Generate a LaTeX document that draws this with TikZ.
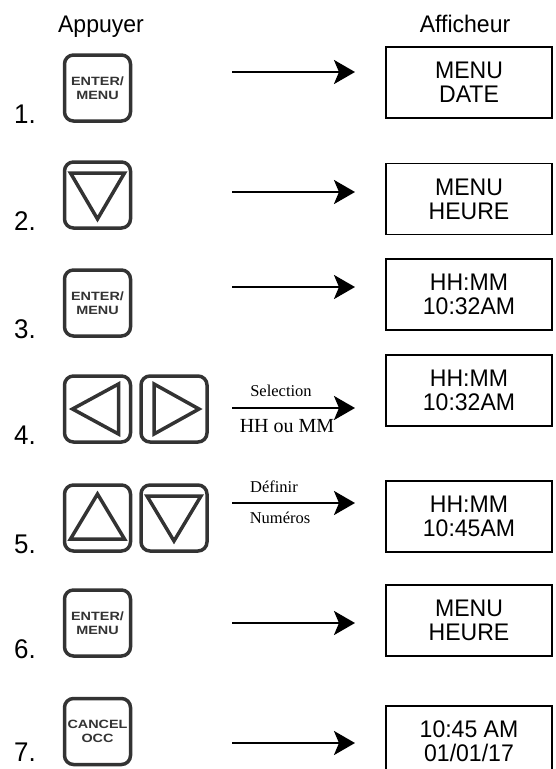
\documentclass[tikz,border=0pt]{standalone}
\usepackage{fontspec}
\setmainfont{Liberation Serif}
\newfontfamily\dispfont[FakeStretch=0.96]{Liberation Sans}
\newfontfamily\keyfont[FakeStretch=1.2]{Liberation Sans}
\usetikzlibrary{arrows.meta}

\tikzset{
  key/.style={draw=black!80, text=black!80, line width=3.5pt, rounded corners=9pt,
    minimum width=66pt, minimum height=66pt, inner sep=0pt, align=center,
    font=\keyfont\bfseries\fontsize{12}{14}\selectfont},
  glyph/.style={draw=black!80, line width=3.5pt},
  screen/.style={draw, line width=1.6pt, minimum width=166pt, minimum height=71pt,
    inner sep=0pt, align=center, font=\dispfont\fontsize{24}{24}\selectfont},
  stepno/.style={anchor=base west, inner sep=0pt, font=\dispfont\fontsize{27}{27}\selectfont},
  title/.style={anchor=base, inner sep=0pt, font=\dispfont\fontsize{24}{24}\selectfont},
  pointer/.style={line width=2.5pt, -{Stealth[length=21pt,width=24pt,inset=5pt]}},
  note/.style={anchor=base, inner sep=0pt, font=\fontsize{16.5}{16.5}\selectfont}
}

\begin{document}
\begin{tikzpicture}[x=1pt,y=-1pt]
\useasboundingbox (0,0) rectangle (555,769);

\draw (101,32)  node (t1) [title] {Appuyer};
\draw (465,32)  node (t2) [title] {Afficheur};

\draw (14,123)    node (n1) [stepno] {1.};
\draw (97.5,88)   node (k1) [key]    {ENTER/\\MENU};
\draw (469,82.5)  node (d1) [screen] {MENU\\DATE};
\coordinate (s1) at (232,72);
\coordinate (e1) at (355,72);
\draw[pointer] (s1) -- (e1);

\draw (14,230)    node (n2) [stepno] {2.};
\draw (97.5,195)  node (k2) [key]    {};
\draw[glyph] (70.5,173) -- (124.5,173) -- (97.5,219) -- cycle;
\draw (469,199)   node (d2) [screen] {MENU\\HEURE};
\coordinate (s2) at (232,192);
\coordinate (e2) at (355,192);
\draw[pointer] (s2) -- (e2);

\draw (14,338)    node (n3) [stepno] {3.};
\draw (97.5,303)  node (k3) [key]    {ENTER/\\MENU};
\draw (469,294.5) node (d3) [screen] {HH:MM\\10:32AM};
\coordinate (s3) at (232,287);
\coordinate (e3) at (355,287);
\draw[pointer] (s3) -- (e3);

\draw (14,444)    node (n4) [stepno] {4.};
\draw (97.5,409)  node (k4) [key]    {};
\draw (174,409)   node (k4b) [key]   {};
\draw[glyph] (72.5,409) -- (118.5,384) -- (118.5,434) -- cycle;
\draw[glyph] (154,384) -- (154,434) -- (199,409) -- cycle;
\draw (469,390.5) node (d4) [screen] {HH:MM\\10:32AM};
\coordinate (s4) at (232,408);
\coordinate (e4) at (355,408);
\draw[pointer] (s4) -- (e4);
\draw (281,396)   node (l4a) [note] {Selection};
\draw (287,432)   node (l4b) [note, font=\fontsize{20}{20}\selectfont] {HH ou MM};

\draw (14,553)    node (n5) [stepno] {5.};
\draw (97.5,518)  node (k5) [key]    {};
\draw (174,518)   node (k5b) [key]   {};
\draw[glyph] (97.5,494) -- (124.5,539) -- (70.5,539) -- cycle;
\draw[glyph] (147,496) -- (201,496) -- (174,541) -- cycle;
\draw (469,516.5) node (d5) [screen] {HH:MM\\10:45AM};
\coordinate (s5) at (232,503);
\coordinate (e5) at (355,503);
\draw[pointer] (s5) -- (e5);
\draw (274,492)   node (l5a) [note] {Définir};
\draw (280,523)   node (l5b) [note] {Numéros};

\draw (14,658)    node (n6) [stepno] {6.};
\draw (97.5,623)  node (k6) [key]    {ENTER/\\MENU};
\draw (469,620.5) node (d6) [screen] {MENU\\HEURE};
\coordinate (s6) at (232,623);
\coordinate (e6) at (355,623);
\draw[pointer] (s6) -- (e6);

\draw (14,761)    node (n7) [stepno] {7.};
\draw (97.5,731.5) node (k7) [key]   {CANCEL\\OCC};
\draw (469,741.5) node (d7) [screen] {10:45 AM\\01/01/17};
\coordinate (s7) at (232,743);
\coordinate (e7) at (355,743);
\draw[pointer] (s7) -- (e7);
\end{tikzpicture}
\end{document}
